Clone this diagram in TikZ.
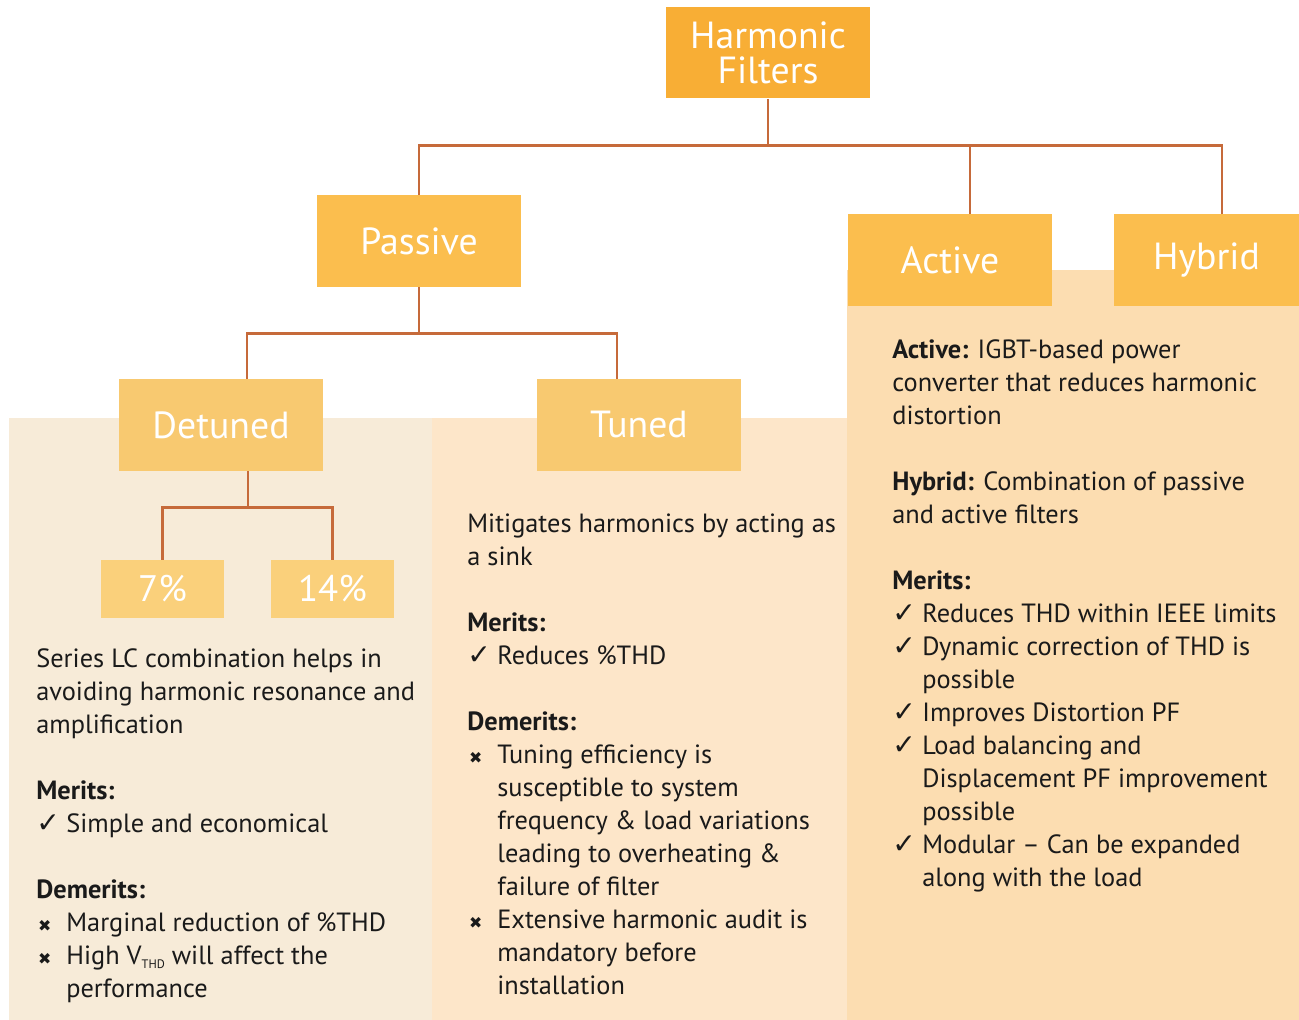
\documentclass[tikz,border=0pt]{standalone}
\usepackage{fontspec}
\setmainfont{PT Sans}
\newfontfamily\hfSymFont{DejaVu Sans}
\usetikzlibrary{positioning}

\definecolor{hfRootFill}{HTML}{F8AE35}
\definecolor{hfMidFill}{HTML}{FBBE4E}
\definecolor{hfLowFill}{HTML}{F8C970}
\definecolor{hfLeafFill}{HTML}{FAD07B}
\definecolor{hfLine}{HTML}{C66A3A}
\definecolor{hfPanelL}{HTML}{F7EBD8}
\definecolor{hfPanelM}{HTML}{FDE6C9}
\definecolor{hfPanelR}{HTML}{FCDDB1}
\definecolor{hfInk}{HTML}{1A1A1A}

\newcommand{\hfOk}{\makebox[0.6cm][l]{\hfSymFont\fontsize{16}{16}\selectfont ✓}}
\newcommand{\hfNo}{\makebox[0.6cm][l]{\hspace{1pt}\hfSymFont\fontsize{9}{9}\selectfont ✖}}
\newcommand{\hfInd}{\hspace*{0.6cm}}

\begin{document}
\begin{tikzpicture}[
    x=0.02cm, y=-0.02cm,
    hfBox/.style={fill=#1, text=white, minimum width=4.08cm, minimum height=1.84cm,
        inner sep=0pt, align=center, font=\fontsize{21.5}{20}\selectfont},
    hfLeaf/.style={fill=hfLeafFill, text=white, minimum width=2.46cm, minimum height=1.16cm,
        inner sep=0pt, font=\fontsize{21}{20}\selectfont},
    hfLink/.style={draw=hfLine, line width=1.6pt},
    hfText/.style={anchor=base west, align=left, inner sep=0pt, text=hfInk,
        font=\fontsize{15}{18.78}\selectfont}
]
\useasboundingbox (0,0) rectangle (1299,1020);

% background panels
\fill[hfPanelL] (9,418) rectangle (432,1020);
\fill[hfPanelM] (432,418) rectangle (847,1020);
\fill[hfPanelR] (847,270) rectangle (1299,1020);

% tree boxes
\node[hfBox=hfRootFill] (root) at (768,52.5) {Harmonic\\Filters};
\node[hfBox=hfMidFill] (passive) at (419,241) {Passive};
\node[hfBox=hfMidFill] (active) at (950,260) {Active};
\node[hfBox=hfMidFill, minimum width=3.7cm] (hybrid) at (1206.5,260) {Hybrid};
\node[hfBox=hfLowFill] (detuned) at (221,425) {Detuned};
\node[hfBox=hfLowFill] (tuned) at (639,425) {Tuned};
\node[hfLeaf] (seven) at (162.5,589) {7\%};
\node[hfLeaf] (fourteen) at (332.5,589) {14\%};

% connectors
\draw[hfLink] (root.south) -- ++(0,47) coordinate (hfBus);
\draw[hfLink] (passive.north) |- (hfBus) -| ([xshift=.31cm]hybrid.north);
\draw[hfLink] ([xshift=.4cm]active.north) -- ([xshift=.4cm]active.north |- hfBus);
\draw[hfLink] (passive.south) -- ++(0,46) coordinate (hfBusP);
\draw[hfLink] ([xshift=.52cm]detuned.north) |- (hfBusP) -| ([xshift=-.44cm]tuned.north);
\draw[hfLink] ([xshift=.54cm]detuned.south) -- ++(0,36) coordinate (hfBusD);
\draw[hfLink] (seven.north) |- (hfBusD) -| (fourteen.north);

% panel texts (placed by the baseline of their last line)
\node[hfText] (detunedText) at (36,997) {%
    Series LC combination helps in\\
    avoiding harmonic resonance and\\
    amplification\\[18.78pt]
    \textbf{Merits:}\\
    \hfOk Simple and economical\\[18.78pt]
    \textbf{Demerits:}\\
    \hfNo Marginal reduction of \%THD\\
    \hfNo High V\raisebox{-0.35ex}{\fontsize{7}{7}\selectfont THD} will affect the\\
    \hfInd performance};

\node[hfText] (tunedText) at (467,994) {%
    Mitigates harmonics by acting as\\
    a sink\\[18.78pt]
    \textbf{Merits:}\\
    \hfOk Reduces \%THD\\[18.78pt]
    \textbf{Demerits:}\\
    \hfNo Tuning efficiency is\\
    \hfInd susceptible to system\\
    \hfInd frequency \& load variations\\
    \hfInd leading to overheating \&\\
    \hfInd failure of filter\\
    \hfNo Extensive harmonic audit is\\
    \hfInd mandatory before\\
    \hfInd installation};

\node[hfText] (activeText) at (892,886) {%
    \textbf{Active:} IGBT-based power\\
    converter that reduces harmonic\\
    distortion\\[18.78pt]
    \textbf{Hybrid:} Combination of passive\\
    and active filters\\[18.78pt]
    \textbf{Merits:}\\
    \hfOk Reduces THD within IEEE limits\\
    \hfOk Dynamic correction of THD is\\
    \hfInd possible\\
    \hfOk Improves Distortion PF\\
    \hfOk Load balancing and\\
    \hfInd Displacement PF improvement\\
    \hfInd possible\\
    \hfOk Modular -- Can be expanded\\
    \hfInd along with the load};
\end{tikzpicture}
\end{document}
